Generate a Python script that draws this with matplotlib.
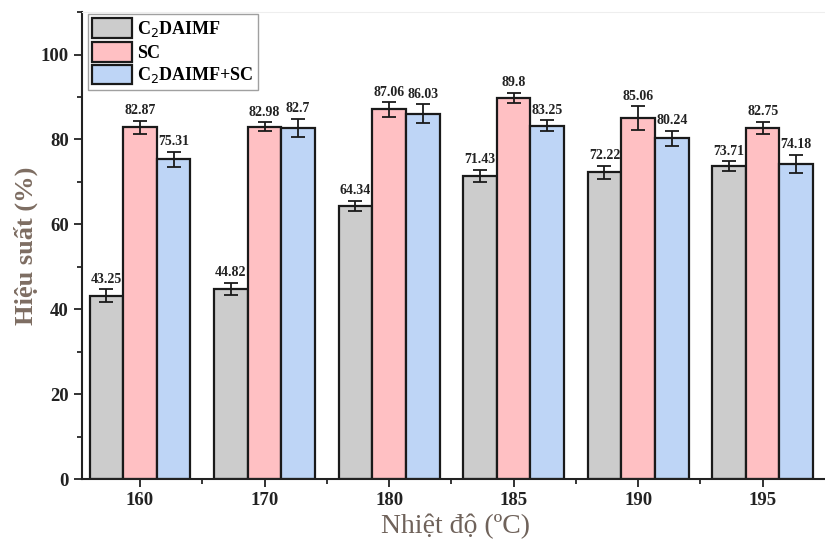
import numpy as np
import matplotlib
matplotlib.use('Agg')
import matplotlib.pyplot as plt
from matplotlib.ticker import MultipleLocator, FixedLocator

plt.rcParams['font.family'] = ['Liberation Serif', 'DejaVu Serif']

# efficiency at each temperature
temps = ['160', '170', '180', '185', '190', '195']
c2daimf = [43.25, 44.82, 64.34, 71.43, 72.22, 73.71]
sc = [82.87, 82.98, 87.06, 89.8, 85.06, 82.75]
mix = [75.31, 82.7, 86.03, 83.25, 80.24, 74.18]
c2daimf_err = [1.5, 1.4, 1.2, 1.4, 1.6, 1.1]
sc_err = [1.5, 1.1, 1.7, 1.2, 2.8, 1.4]
mix_err = [1.8, 2.2, 2.2, 1.3, 1.8, 2.2]

series = [
    (c2daimf, c2daimf_err, '#cccccc', 'C$_2$DAIMF'),
    (sc, sc_err, '#ffc0c3', 'SC'),
    (mix, mix_err, '#bed5f6', 'C$_2$DAIMF+SC'),
]

fig = plt.figure(figsize=(8.25, 5.47), dpi=100)
ax = fig.add_axes([0.0994, 0.124, 0.905, 0.854])

x = np.arange(len(temps))
w = 0.27
for i, (vals, errs, col, lab) in enumerate(series):
    pos = x + (i - 1) * w
    ax.bar(pos, vals, w, color=col, edgecolor='#1a1a1a', linewidth=1.6,
           label=lab, zorder=2)
    ax.errorbar(pos, vals, yerr=errs, fmt='none', ecolor='#1a1a1a',
                elinewidth=1.3, capsize=5, capthick=1.3, zorder=3)
    for p, v, e in zip(pos, vals, errs):
        ax.text(p, v + e + 0.8, f'{v:g}', ha='center', va='bottom',
                fontsize=10, fontweight='bold', color='#222222')

ax.set_xlim(-0.466, 5.53)
ax.set_ylim(0, 110)
ax.set_xticks(x)
ax.set_xticklabels(temps)
ax.xaxis.set_minor_locator(FixedLocator(x[:-1] + 0.5))
ax.yaxis.set_major_locator(MultipleLocator(20))
ax.yaxis.set_minor_locator(MultipleLocator(10))
ax.tick_params(axis='both', which='major', length=6, width=1.3,
               labelsize=13.5, colors='#222222')
ax.tick_params(axis='both', which='minor', length=3.5, width=1.1)
for t in ax.get_xticklabels() + ax.get_yticklabels():
    t.set_fontweight('bold')

for s in ['left', 'bottom']:
    ax.spines[s].set_linewidth(1.5)
    ax.spines[s].set_color('#222222')
ax.spines['right'].set_visible(False)
ax.spines['top'].set_color('#eeeeee')

ax.set_ylabel('Hiệu suất (%)', fontsize=19, fontweight='bold',
              color='#7d6d62', labelpad=2)
ax.set_xlabel('Nhiệt độ (ºC)', fontsize=20, color='#6f625a', labelpad=3)

leg = ax.legend(loc='upper left', bbox_to_anchor=(0.005, 1.0),
                prop={'weight': 'bold', 'size': 13}, frameon=True,
                fancybox=False, edgecolor='#888888', handlelength=2.2,
                handleheight=1.3, handletextpad=0.3, labelspacing=0.15,
                borderpad=0.25, borderaxespad=0.1)
leg.get_frame().set_linewidth(1.0)

fig.savefig('out.png', dpi=100)
